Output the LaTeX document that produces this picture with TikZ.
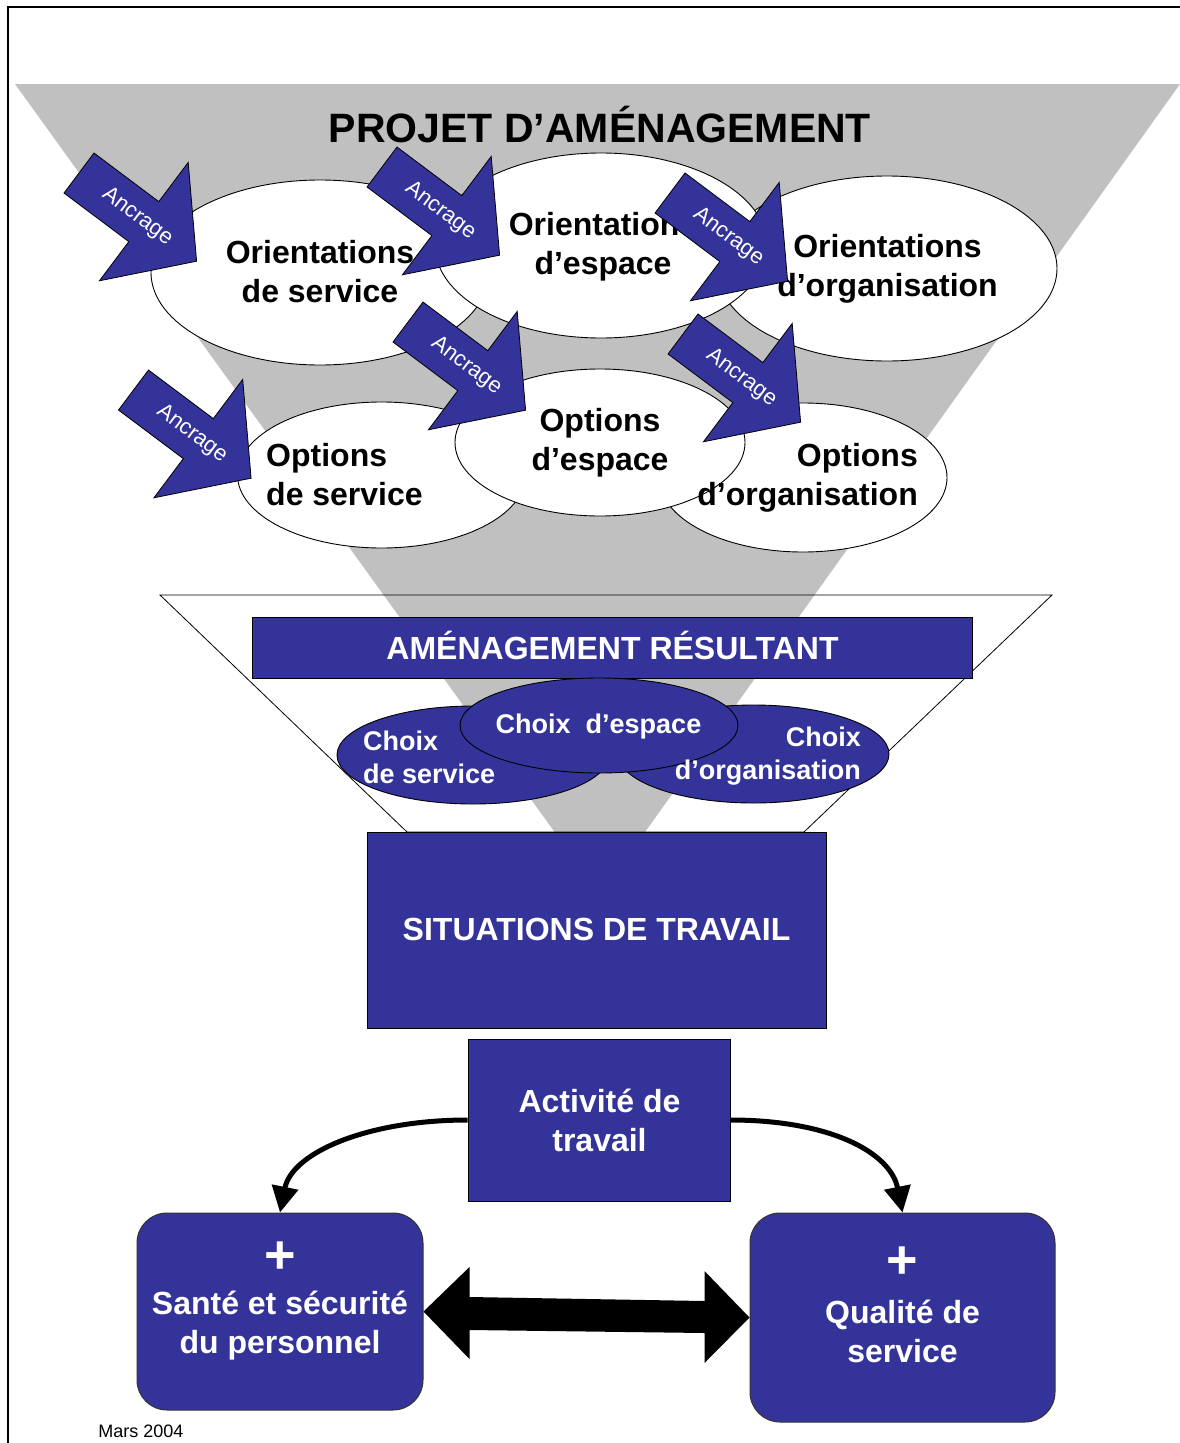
\documentclass[tikz,border=0pt]{standalone}
\usepackage{fontspec}
\setmainfont{Liberation Sans}
\usetikzlibrary{arrows.meta,calc,shapes.geometric}
\definecolor{navy}{HTML}{333399}
\definecolor{grayfill}{HTML}{C0C0C0}
\tikzset{
  ancr/.pic={
    \filldraw[fill=navy, draw=black, line width=0.8pt]
      (0,25) -- (81,25) -- (81,74) -- (147,0) -- (81,-74) -- (81,-25) -- (0,-25) -- cycle;
    \node[rotate=-36.87, text=white, font=\fontsize{22}{22}\selectfont, inner sep=0pt] (-a) at (73,0) {Ancrage};
  },
  wel/.style={ellipse, draw=black, line width=0.9pt, fill=white, inner sep=0pt},
  bel/.style={ellipse, draw=black, line width=0.9pt, fill=navy, inner sep=0pt},
  bbox/.style={rectangle, draw=black, line width=0.9pt, fill=navy, inner sep=0pt},
  rbox/.style={rectangle, rounded corners=30pt, draw=black!80, line width=1pt, fill=navy, inner sep=0pt},
  lbl/.style={font=\bfseries\fontsize{32}{39}\selectfont, inner sep=0pt},
  wlbl/.style={lbl, text=white},
  clbl/.style={font=\bfseries\fontsize{27}{33}\selectfont, text=white, inner sep=0pt},
  plus/.style={font=\bfseries\fontsize{54}{54}\selectfont, text=white, inner sep=0pt},
  curvarr/.style={line width=5pt, -{Triangle[length=26pt,width=26pt]}}
}
\begin{document}
\begin{tikzpicture}[x=1pt,y=-1pt]
\useasboundingbox (0,0) rectangle (1180,1443);
\fill[white] (0,0) rectangle (1180,1443);
% frame
\draw[line width=2pt] (8,1443) -- (8,7) -- (1180,7);
% gray funnel
\fill[grayfill] (15,84) -- (1180,84) -- (600,895) -- cycle;
% outline funnel
\draw[line width=0.8pt] (160,595) -- (1052,595) -- (804,832) -- (407,832) -- cycle;

% title
\node[font=\bfseries\fontsize{41}{41}\selectfont, inner sep=0pt] (title) at (600,125) {PROJET D’AMÉNAGEMENT};

% top ellipses
\node[wel, minimum width=338, minimum height=185] (e1) at (320,272.5) {};
\node[wel, minimum width=340, minimum height=185] (e3) at (887,268.5) {};
\node[wel, minimum width=332, minimum height=185] (e2) at (601,245.5) {};
% bottom ellipses
\node[wel, minimum width=288, minimum height=146] (e4) at (381.5,475) {};
\node[wel, minimum width=288, minimum height=149] (e6) at (803,477.5) {};
\node[wel, minimum width=290, minimum height=147] (e5) at (600,442.5) {};

% texts
\node[lbl, align=center] (t1) at (320,272) {Orientations\\de service};
\node[lbl, align=center] (t2) at (603,246.5) {Orientations\\d’espace};
\node[lbl, align=center] (t3) at (887.5,268.5) {Orientations\\d’organisation};
\node[lbl, align=left, anchor=west] (t4) at (266,475) {Options\\de service};
\node[lbl, align=center] (t5) at (600,443) {Options\\d’espace};
\node[lbl, align=right, anchor=east] (t6) at (918,478) {Options\\d’organisation};

% Ancrage arrows
\path pic[rotate=-36.87] (anc1) at (79,173) {ancr};
\path pic[rotate=-36.87] (anc2) at (382,167) {ancr};
\path pic[rotate=-36.87] (anc3) at (670,193) {ancr};
\path pic[rotate=-36.87] (anc4) at (408,322) {ancr};
\path pic[rotate=-36.87] (anc5) at (683,334) {ancr};
\path pic[rotate=-36.87] (anc6) at (133.5,390) {ancr};

% resulting layout
\node[bbox, minimum width=720, minimum height=61] (res) at (612,647.5) {};
\node[wlbl] (rest) at (612.5,645) {AMÉNAGEMENT RÉSULTANT};
\node[bel, minimum width=272, minimum height=98] (c1) at (473,755) {};
\node[bel, minimum width=271, minimum height=98] (c3) at (753.5,754) {};
\node[bel, minimum width=278, minimum height=95] (c2) at (599,725.5) {};
\node[clbl, align=left, anchor=west] (c1t) at (363,757.5) {Choix\\de service};
\node[clbl] (c2t) at (598.5,727) {Choix\ \ d’espace};
\node[clbl, align=right, anchor=east] (c3t) at (861,756) {Choix\\d’organisation};

% situations
\node[bbox, minimum width=459, minimum height=196] (sit) at (596.5,930) {};
\node[wlbl] (sitt) at (596.5,929) {SITUATIONS DE TRAVAIL};
\node[bbox, minimum width=262, minimum height=162] (act) at (599,1120) {};
\node[wlbl, align=center] (actt) at (599.5,1120) {Activité de\\travail};

% outcomes
\node[rbox, minimum width=286, minimum height=197] (sante) at (280,1311.5) {};
\node[plus] (plus1) at (280,1258) {+};
\node[wlbl, align=center] (santet) at (280,1326) {Santé et sécurité\\du personnel};
\node[rbox, minimum width=305, minimum height=209] (qualite) at (902.5,1317.5) {};
\node[plus] (plus2) at (902,1263) {+};
\node[wlbl, align=center] (qualitet) at (902.5,1331) {Qualité de\\service};

% curved arrows
\draw[curvarr] (act.west) .. controls +(-100,0) and +(12,-60) .. (sante.north);
\draw[curvarr] (act.east) .. controls +(100,0) and +(-12,-60) .. (qualite.north);

% double arrow
\fill[black] (sante.east) -- ($(sante.east)+(46,-44.5)$) -- ($(sante.east)+(46,-14.5)$)
  -- ($(qualite.west)+(-45,-16.5)$) -- ($(qualite.west)+(-45,-46.5)$) -- (qualite.west)
  -- ($(qualite.west)+(-45,45.5)$) -- ($(qualite.west)+(-45,15.5)$)
  -- ($(sante.east)+(46,18.5)$) -- ($(sante.east)+(46,47.5)$) -- cycle;

% footer
\node[font=\fontsize{18}{18}\selectfont, inner sep=0pt] (date) at (141,1431) {Mars 2004};
\end{tikzpicture}
\end{document}
